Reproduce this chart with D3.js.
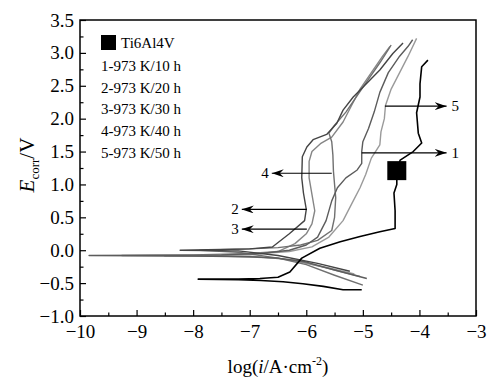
<!DOCTYPE html>
<html>
<head>
<meta charset="utf-8">
<script src="https://cdn.jsdelivr.net/npm/d3@7"></script>
<style>
  body { margin: 0; background: #fff; }
  svg, svg text { font-family: "Liberation Serif", "Times New Roman", Times, serif; }
  .tick line { stroke: #000; stroke-width: 1.2; }
  .domain { display: none; }
</style>
</head>
<body>
<div id="chart"></div>
<script>
// tick values
const xTicks = [-10, -9, -8, -7, -6, -5, -4, -3];
const xMinor = [-9.5, -8.5, -7.5, -6.5, -5.5, -4.5, -3.5];
const yTicks = [-1.0, -0.5, 0.0, 0.5, 1.0, 1.5, 2.0, 2.5, 3.0, 3.5];
const yMinor = [-0.75, -0.25, 0.25, 0.75, 1.25, 1.75, 2.25, 2.75, 3.25];

// legend text
const legendLabels = ["1-973 K/10 h", "2-973 K/20 h", "3-973 K/30 h", "4-973 K/40 h", "5-973 K/50 h"];

// curves: [log i, E], from cathodic end through Ecorr to anodic end
const ti6al4v = [[-5.02,-0.60],[-5.35,-0.60],[-5.70,-0.55],[-6.06,-0.51],[-6.41,-0.48],[-6.8,-0.46],[-7.2,-0.45],[-7.91,-0.44],
  [-7.2,-0.44],[-6.82,-0.43],[-6.5,-0.41],[-6.29,-0.33],[-6.08,-0.12],[-5.76,0.03],[-5.40,0.13],[-5.05,0.21],[-4.70,0.28],
  [-4.43,0.33],[-4.43,0.6],[-4.45,0.87],[-4.40,1.0],[-4.40,1.21],[-4.34,1.37],[-4.11,1.50],[-3.96,1.63],[-4.02,1.78],
  [-4.05,2.09],[-3.99,2.33],[-3.99,2.53],[-3.96,2.79],[-3.85,2.89]];
const ti6al4vMark = [[-4.40, 1.21]];

const curve1 = [[-4.93,-0.43],[-5.5,-0.3],[-6.0,-0.18],[-6.5,-0.12],[-7.0,-0.1],[-8.0,-0.09],[-9.84,-0.08],
  [-7.5,-0.07],[-6.8,-0.05],[-6.3,0.0],[-6.0,0.08],[-5.8,0.2],[-5.65,0.45],[-5.55,0.75],[-5.45,0.95],[-5.3,1.1],
  [-5.1,1.22],[-5.02,1.32],[-5.02,1.5],[-5.0,1.65],[-4.9,1.85],[-4.8,2.1],[-4.7,2.4],[-4.55,2.7],[-4.35,2.95],[-4.2,3.1],[-4.12,3.2]];
const curve2 = [[-5.23,-0.32],[-5.8,-0.2],[-6.5,-0.08],[-7.2,-0.01],[-8.23,0.0],
  [-7.5,0.01],[-7.0,0.02],[-6.6,0.05],[-6.3,0.25],[-6.03,0.45],[-6.0,0.62],[-6.05,0.87],[-6.08,1.1],[-6.07,1.42],
  [-5.99,1.57],[-5.88,1.68],[-5.64,1.76],[-5.46,1.93],[-5.35,2.13],[-5.17,2.33],[-4.93,2.54],[-4.70,2.74],[-4.47,2.99],[-4.29,3.15]];
const curve3 = [[-5.05,-0.40],[-5.6,-0.28],[-6.2,-0.15],[-7.0,-0.09],[-9.26,-0.08],
  [-8.0,-0.07],[-7.0,-0.05],[-6.5,-0.02],[-6.2,0.1],[-6.0,0.25],[-5.9,0.4],[-5.85,0.6],[-5.9,0.85],[-5.95,1.1],
  [-5.95,1.35],[-5.9,1.5],[-5.75,1.62],[-5.55,1.72],[-5.35,1.95],[-5.2,2.2],[-5.05,2.45],[-4.85,2.7],[-4.65,2.95],[-4.52,3.1]];
const curve4 = [[-5.0,-0.53],[-5.5,-0.38],[-6.0,-0.22],[-6.5,-0.12],[-7.2,-0.03],[-7.88,0.0],
  [-7.0,0.02],[-6.5,0.04],[-6.1,0.08],[-5.8,0.15],[-5.55,0.3],[-5.5,0.5],[-5.48,0.8],[-5.5,1.0],[-5.52,1.2],
  [-5.53,1.45],[-5.55,1.65],[-5.6,1.78],[-5.5,1.9],[-5.3,2.1],[-5.1,2.35],[-4.9,2.6],[-4.7,2.85],[-4.55,3.05],[-4.5,3.12]];
const curve5 = [[-5.15,-0.36],[-5.6,-0.27],[-6.0,-0.2],[-6.5,-0.12],[-7.5,-0.09],[-8.5,-0.09],
  [-7.5,-0.08],[-6.8,-0.05],[-6.3,-0.02],[-5.9,0.05],[-5.6,0.2],[-5.35,0.45],[-5.2,0.7],[-5.05,0.95],[-4.95,1.15],
  [-4.85,1.4],[-4.7,1.6],[-4.68,1.8],[-4.62,2.0],[-4.6,2.2],[-4.5,2.45],[-4.35,2.7],[-4.2,2.95],[-4.05,3.22]];

// arrow annotations: label, from [log i, E], to log i
const arrowLabels = ["1", "2", "3", "4", "5"];
const arrowFrom = [[-5.02, 1.48], [-5.99, 0.62], [-5.99, 0.32], [-5.55, 1.17], [-4.61, 2.19]];
const arrowTo = [-3.52, -7.14, -7.14, -6.61, -3.52];

const W = 489, H = 383;
const plotL = 80, plotR = 476, plotT = 20, plotB = 316;
const serif = "'Liberation Serif', 'Times New Roman', Times, serif";

const svg = d3.select("#chart").append("svg")
    .attr("width", W).attr("height", H)
    .attr("font-family", serif);

const x = d3.scaleLinear().domain([-10, -3]).range([plotL, plotR]);
const y = d3.scaleLinear().domain([-1, 3.5]).range([plotB, plotT]);

/* axes, ticks point inward */
function styleAxis(g) {
    g.attr("font-family", serif).attr("font-size", 19);
    g.selectAll("text").attr("fill", "#000");
}

svg.append("g").attr("transform", `translate(0,${plotB})`)
    .call(d3.axisBottom(x).tickValues(xTicks).tickSize(-6).tickPadding(9).tickFormat(d3.format("d")))
    .call(styleAxis);
svg.append("g").attr("transform", `translate(0,${plotB})`)
    .call(d3.axisBottom(x).tickValues(xMinor).tickSize(-3.5).tickFormat(""));

svg.append("g").attr("transform", `translate(${plotL},0)`)
    .call(d3.axisLeft(y).tickValues(yTicks).tickSize(-6).tickPadding(6).tickFormat(d3.format(".1f")))
    .call(styleAxis);
svg.append("g").attr("transform", `translate(${plotL},0)`)
    .call(d3.axisLeft(y).tickValues(yMinor).tickSize(-3.5).tickFormat(""));

/* frame */
svg.append("rect")
    .attr("x", plotL).attr("y", plotT)
    .attr("width", plotR - plotL).attr("height", plotB - plotT)
    .attr("fill", "none").attr("stroke", "#000").attr("stroke-width", 1.5);

/* curves */
const line = d3.line().x(d => x(d[0])).y(d => y(d[1]));
const curves = [
    { data: curve5, color: "#9a9a9a" },
    { data: curve3, color: "#858585" },
    { data: curve4, color: "#707070" },
    { data: curve1, color: "#5c5c5c" },
    { data: curve2, color: "#444" },
    { data: ti6al4v, color: "#000" }
];
svg.append("g").selectAll("path")
    .data(curves)
    .join("path")
    .attr("d", d => line(d.data))
    .attr("fill", "none")
    .attr("stroke", d => d.color)
    .attr("stroke-width", d => d.color === "#000" ? 1.6 : 1.4)
    .attr("stroke-linejoin", "round");

svg.append("g").selectAll("rect")
    .data(ti6al4vMark)
    .join("rect")
    .attr("x", d => x(d[0]) - 9.5).attr("y", d => y(d[1]) - 9.5)
    .attr("width", 19).attr("height", 19)
    .attr("fill", "#000");

/* arrows */
svg.append("defs").append("marker")
    .attr("id", "head")
    .attr("viewBox", "0 0 12 8")
    .attr("refX", 12).attr("refY", 4)
    .attr("markerWidth", 12).attr("markerHeight", 8)
    .attr("markerUnits", "userSpaceOnUse")
    .attr("orient", "auto")
    .append("path")
    .attr("d", "M0,0 L12,4 L0,8 L4,4 Z")
    .attr("fill", "#000");

arrowLabels.forEach((lab, i) => {
    const [x0, e] = arrowFrom[i];
    const x1 = arrowTo[i];
    svg.append("line")
        .attr("x1", x(x0)).attr("y1", y(e))
        .attr("x2", x(x1)).attr("y2", y(e))
        .attr("stroke", "#000").attr("stroke-width", 1.2)
        .attr("marker-end", "url(#head)");
    const toRight = x1 > x0;
    svg.append("text")
        .attr("x", x(x1) + (toRight ? 5 : -3))
        .attr("y", y(e) + 5)
        .attr("text-anchor", toRight ? "start" : "end")
        .attr("font-size", 15)
        .text(lab);
});

/* legend */
svg.append("rect").attr("x", 101).attr("y", 35).attr("width", 15).attr("height", 15).attr("fill", "#000");
svg.append("text").attr("x", 121).attr("y", 48).attr("font-size", 15).text("Ti6Al4V");
svg.append("g").selectAll("text")
    .data(legendLabels)
    .join("text")
    .attr("x", 101)
    .attr("y", (d, i) => 71 + i * 21.7)
    .attr("font-size", 15)
    .text(d => d);

/* axis titles */
const xt = svg.append("text")
    .attr("x", (plotL + plotR) / 2).attr("y", 373)
    .attr("text-anchor", "middle").attr("font-size", 19);
xt.append("tspan").text("log(");
xt.append("tspan").attr("font-style", "italic").text("i");
xt.append("tspan").text("/A·cm");
xt.append("tspan").attr("font-size", 12).attr("dy", -8).text("-2");
xt.append("tspan").attr("dy", 8).text(")");

const yt = svg.append("text")
    .attr("transform", "translate(34,165) rotate(-90)")
    .attr("text-anchor", "middle").attr("font-size", 21);
yt.append("tspan").attr("font-style", "italic").text("E");
yt.append("tspan").attr("font-size", 13).attr("dy", 5).text("corr");
yt.append("tspan").attr("dy", -5).text("/V");
</script>
</body>
</html>
